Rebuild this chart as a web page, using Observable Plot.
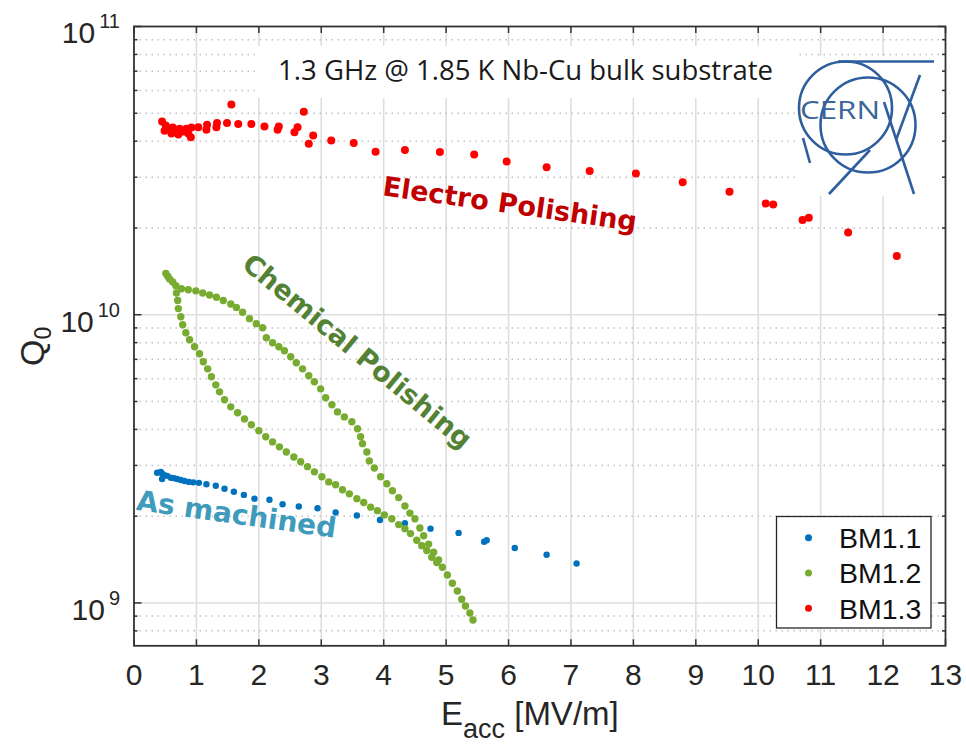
<!DOCTYPE html>
<html>
<head>
<meta charset="utf-8">
<script src="https://cdn.jsdelivr.net/npm/d3@7"></script>
<script src="https://cdn.jsdelivr.net/npm/@observablehq/plot@0.6"></script>
<style>
  body { margin: 0; background: #fff; }
  svg { display: block; }
</style>
</head>
<body>
<div id="chart"></div>
<script>
// ---------- data ----------
const seriesNames = ["BM1.1", "BM1.2", "BM1.3"];
const seriesColors = ["#0072BD", "#77AC30", "#FF0000"];

// BM1.1 — as machined
const bm11_E = [0.37,0.43,0.45,0.48,0.45,0.53,0.59,0.64,0.69,0.75,0.81,0.88,0.95,1.04,1.16,1.31,1.45,1.60,1.76,1.93,2.17,2.38,2.64,2.94,3.23,3.57,3.94,4.34,4.75,5.20,5.61,5.65,6.10,6.61,7.09];
const bm11_Q = [2.83e9,2.85e9,2.81e9,2.78e9,2.69e9,2.76e9,2.72e9,2.71e9,2.69e9,2.67e9,2.65e9,2.63e9,2.62e9,2.61e9,2.58e9,2.55e9,2.49e9,2.43e9,2.37e9,2.30e9,2.28e9,2.20e9,2.16e9,2.13e9,2.06e9,2.01e9,1.94e9,1.89e9,1.81e9,1.75e9,1.63e9,1.65e9,1.55e9,1.47e9,1.37e9];

// BM1.2 — chemical polishing (start, upper branch, lower branch)
const bm12_E = [0.51,0.54,0.57,0.62,0.67,
  0.76,0.87,0.99,1.10,1.21,1.32,1.43,1.55,1.64,1.74,1.85,1.96,2.06,2.12,2.22,2.32,2.41,2.51,2.60,2.70,2.80,2.89,2.99,3.07,3.17,3.26,3.37,3.49,3.58,3.63,3.66,3.73,3.77,3.85,3.95,4.05,4.14,4.24,4.34,4.42,4.50,4.58,4.64,4.72,4.80,4.88,4.94,5.02,5.10,5.18,5.25,5.31,5.38,5.43,
  0.68,0.70,0.71,0.75,0.78,0.83,0.89,0.97,1.05,1.11,1.18,1.24,1.31,1.37,1.45,1.55,1.66,1.77,1.88,2.00,2.11,2.22,2.33,2.44,2.56,2.67,2.78,2.89,3.01,3.12,3.23,3.34,3.45,3.57,3.68,3.79,3.90,4.01,4.13,4.24,4.34,4.43,4.53,4.61,4.69,4.77,4.85];
const bm12_Q = [1.39e10,1.36e10,1.33e10,1.30e10,1.26e10,
  1.23e10,1.22e10,1.21e10,1.19e10,1.17e10,1.15e10,1.12e10,1.09e10,1.06e10,1.02e10,9.69e9,9.31e9,9.01e9,8.32e9,7.99e9,7.74e9,7.50e9,7.15e9,6.81e9,6.49e9,6.14e9,5.85e9,5.53e9,5.15e9,4.87e9,4.60e9,4.42e9,4.25e9,4.02e9,3.77e9,3.57e9,3.34e9,3.11e9,2.94e9,2.74e9,2.59e9,2.45e9,2.32e9,2.17e9,2.05e9,1.96e9,1.82e9,1.71e9,1.60e9,1.50e9,1.41e9,1.33e9,1.25e9,1.17e9,1.10e9,1.03e9,9.76e8,9.23e8,8.73e8,
  1.19e10,1.12e10,1.05e10,9.84e9,9.23e9,8.66e9,8.19e9,7.74e9,7.32e9,6.87e9,6.49e9,6.09e9,5.71e9,5.40e9,5.07e9,4.79e9,4.57e9,4.35e9,4.15e9,3.96e9,3.77e9,3.62e9,3.48e9,3.34e9,3.21e9,3.09e9,2.97e9,2.85e9,2.74e9,2.63e9,2.57e9,2.47e9,2.39e9,2.30e9,2.23e9,2.15e9,2.09e9,2.02e9,1.96e9,1.87e9,1.81e9,1.74e9,1.65e9,1.58e9,1.52e9,1.44e9,1.38e9];

// BM1.3 — electro polishing
const bm13_E = [0.45,0.49,0.51,0.55,0.60,0.62,0.67,0.71,0.73,0.79,0.84,0.87,0.91,0.92,1.03,1.17,1.16,1.33,1.32,1.49,1.56,1.67,1.88,2.09,2.32,2.30,2.57,2.62,2.72,2.80,2.87,3.16,3.52,3.87,4.34,4.90,5.45,5.97,6.61,7.30,8.04,8.79,9.54,10.12,10.24,10.71,10.81,11.44,12.22];
const bm13_Q = [4.68e10,4.35e10,4.53e10,4.42e10,4.25e10,4.46e10,4.35e10,4.22e10,4.42e10,4.32e10,4.42e10,4.25e10,4.13e10,4.46e10,4.47e10,4.56e10,4.38e10,4.63e10,4.47e10,4.63e10,5.36e10,4.59e10,4.59e10,4.50e10,4.50e10,4.38e10,4.30e10,4.47e10,5.06e10,3.92e10,4.19e10,4.02e10,3.94e10,3.68e10,3.73e10,3.67e10,3.60e10,3.40e10,3.25e10,3.15e10,3.09e10,2.88e10,2.67e10,2.43e10,2.41e10,2.13e10,2.17e10,1.93e10,1.60e10];

// ticks
const xTicks = [0,1,2,3,4,5,6,7,8,9,10,11,12,13];
const yMajor = [1e9, 1e10, 1e11];
const yExponents = ["9", "10", "11"];
const yMinor = [8e8,9e8,2e9,3e9,4e9,5e9,6e9,7e9,8e9,9e9,2e10,3e10,4e10,5e10,6e10,7e10,8e10,9e10];

// texts
const titleText = "1.3 GHz @ 1.85 K Nb-Cu bulk substrate";
const annotations = [
  {label: "Electro Polishing", E: 6.02, Q: 2.41e10},
  {label: "Chemical Polishing", E: 3.57, Q: 7.44e9},
  {label: "As machined", E: 1.64, Q: 2.02e9}
];

// ---------- build ----------
const toRows = (E, Q, s) => E.map((e, i) => ({E: e, Q: Q[i], series: s}));
const rows11 = toRows(bm11_E, bm11_Q, seriesNames[0]);
const rows12 = toRows(bm12_E, bm12_Q, seriesNames[1]);
const rows13 = toRows(bm13_E, bm13_Q, seriesNames[2]);

const W = 966, H = 744;
const mL = 133.5, mR = 21, mT = 26, mB = 98.7;
const frameCol = "#333333";
const sans = "'Liberation Sans', Arial, Helvetica, sans-serif";
const mont = "'Open Sans', 'Noto Sans', sans-serif";
const boldFont = "'DejaVu Sans', 'Open Sans', sans-serif";

const svgMark = (build) => (index, scales, values, dims) => {
  const g = d3.create("svg:g");
  build(g, scales, dims);
  return g.node();
};

const annColors = ["#C00000", "#548235", "#3F9BBB"];
const annRotate = [8, 39.6, 8];
const annSize = [27, 27, 28];

const plot = Plot.plot({
  width: W, height: H,
  marginLeft: mL, marginRight: mR, marginTop: mT, marginBottom: mB,
  style: {fontFamily: sans, background: "white", overflow: "visible"},
  x: {domain: [0, 13]},
  y: {type: "log", domain: [7.1e8, 1e11]},
  color: {domain: seriesNames, range: seriesColors},
  marks: [
    // grid
    Plot.ruleX(xTicks.slice(1, -1), {stroke: "#dedede", strokeWidth: 1.6}),
    Plot.ruleY(yMinor, {stroke: "#c2c2c2", strokeWidth: 1.5, strokeDasharray: "1.5 4.5"}),
    Plot.ruleY(yMajor.slice(0, 2), {stroke: "#dedede", strokeWidth: 1.6}),
    // white boxes behind title and logo
    svgMark(g => {
      g.append("rect").attr("x", 255).attr("y", 46).attr("width", 542).attr("height", 52).attr("fill", "white");
      g.append("rect").attr("x", 796).attr("y", 56).attr("width", 145).attr("height", 140).attr("fill", "white");
    }),
    // data
    Plot.dot(rows11, {x: "E", y: "Q", fill: "series", r: 3.2}),
    Plot.dot(rows12, {x: "E", y: "Q", fill: "series", r: 3.7}),
    Plot.dot(rows13, {x: "E", y: "Q", fill: "series", r: 4}),
    // annotations
    ...annotations.map((a, i) => Plot.text([a], {
      x: "E", y: "Q", text: "label", rotate: annRotate[i],
      fill: annColors[i], fontSize: annSize[i], fontWeight: "bold", fontFamily: boldFont,
      textAnchor: "middle", lineAnchor: "middle"
    })),
    Plot.text([titleText], {text: d => d, frameAnchor: "top-left", dx: 391.5, dy: 44.5,
      textAnchor: "middle", lineAnchor: "middle", fontSize: 27.5, fontFamily: mont, fill: "#1a1a1a"}),
    // frame + ticks
    Plot.frame({stroke: frameCol, strokeWidth: 1.8}),
    Plot.axisX(xTicks, {anchor: "bottom", tickSize: 6, insetBottom: 6, tickFormat: () => "", label: null, stroke: frameCol, strokeWidth: 1.5}),
    Plot.axisX(xTicks, {anchor: "top", tickSize: 6, insetTop: 6, tickFormat: () => "", label: null, stroke: frameCol, strokeWidth: 1.5}),
    Plot.axisY(yMajor, {anchor: "left", tickSize: 8, insetLeft: 8, tickFormat: () => "", label: null, stroke: frameCol, strokeWidth: 1.5}),
    Plot.axisY(yMinor, {anchor: "left", tickSize: 4, insetLeft: 4, tickFormat: () => "", label: null, stroke: frameCol, strokeWidth: 1.5}),
    Plot.axisY(yMajor, {anchor: "right", tickSize: 8, insetRight: 8, tickFormat: () => "", label: null, stroke: frameCol, strokeWidth: 1.5}),
    Plot.axisY(yMinor, {anchor: "right", tickSize: 4, insetRight: 4, tickFormat: () => "", label: null, stroke: frameCol, strokeWidth: 1.5}),
    // x tick labels
    Plot.axisX(xTicks, {anchor: "bottom", tickSize: 0, tickPadding: 17.5, fontSize: 30, fill: "#262626", label: null}),
    // y tick labels with superscript exponents
    svgMark((g, scales) => {
      g.attr("font-size", 30).attr("fill", "#262626").attr("text-anchor", "end").attr("font-family", sans);
      yMajor.forEach((v, i) => {
        const t = g.append("text").attr("x", mL - 13.5).attr("y", scales.y(v) + 17.3);
        t.append("tspan").text("10");
        t.append("tspan").attr("dx", 4).attr("dy", -15).attr("font-size", 20).text(yExponents[i]);
      });
    }),
    // axis titles
    svgMark(g => {
      g.attr("fill", "#262626").attr("font-family", sans).attr("text-anchor", "start");
      const q = g.append("text").attr("transform", "translate(44,366) rotate(-90)").attr("font-size", 34);
      q.append("tspan").text("Q");
      q.append("tspan").attr("dy", 7).attr("font-size", 23).text("0");
      const e = g.append("text").attr("x", 441).attr("y", 725).attr("font-size", 33);
      e.append("tspan").text("E");
      e.append("tspan").attr("dy", 13).attr("font-size", 27).text("acc");
      e.append("tspan").attr("dy", -13).text(" [MV/m]");
    }),
    // CERN logo
    svgMark(g => {
      const c = "#2F5E9E";
      g.attr("fill", "none").attr("stroke", c).attr("stroke-width", 2.6);
      g.append("line").attr("x1", 838).attr("y1", 61.5).attr("x2", 934).attr("y2", 61.5);
      g.append("circle").attr("cx", 845.5).attr("cy", 108).attr("r", 46.5);
      g.append("circle").attr("cx", 868).attr("cy", 125).attr("r", 47.5);
      g.append("line").attr("x1", 920).attr("y1", 75).attr("x2", 896).attr("y2", 140);
      g.append("line").attr("x1", 884).attr("y1", 102).attr("x2", 914).attr("y2", 194);
      g.append("line").attr("x1", 803).attr("y1", 138).attr("x2", 810).attr("y2", 163);
      g.append("line").attr("x1", 829).attr("y1", 194).attr("x2", 870).attr("y2", 150);
      g.append("text").attr("x", 800).attr("y", 118.5).attr("stroke", "none").attr("fill", "#3C6498")
        .attr("text-anchor", "start")
        .attr("font-family", mont).attr("font-size", 25).attr("textLength", 80).attr("lengthAdjust", "spacingAndGlyphs")
        .text("CERN");
    }),
    // legend
    svgMark(g => {
      g.attr("text-anchor", "start");
      g.append("rect").attr("x", 776.5).attr("y", 516.5).attr("width", 154.5).attr("height", 111.5)
        .attr("fill", "white").attr("stroke", "#262626").attr("stroke-width", 1.3);
      seriesNames.forEach((name, i) => {
        const cy = 537.7 + i * 35.3;
        g.append("circle").attr("cx", 808.5).attr("cy", cy).attr("r", 3.5).attr("fill", seriesColors[i]);
        g.append("text").attr("x", 839).attr("y", cy).attr("dy", "0.36em")
          .attr("font-size", 28.5).attr("font-family", sans).attr("fill", "#111").text(name);
      });
    })
  ]
});

document.getElementById("chart").appendChild(plot);
</script>
</body>
</html>
